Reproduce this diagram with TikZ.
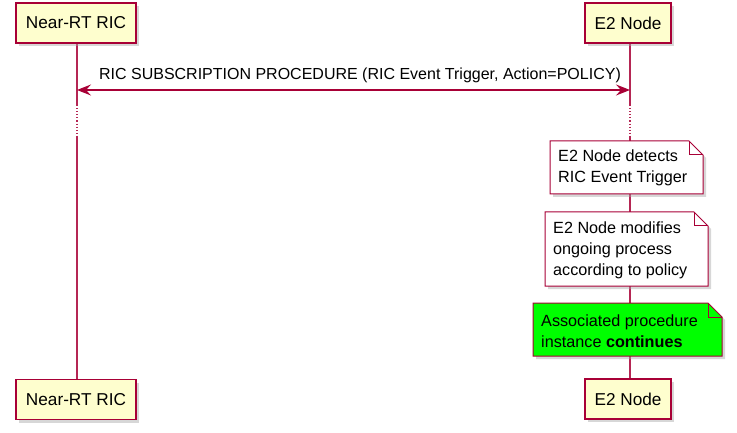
\documentclass[tikz,border=0pt]{standalone}
\usepackage{fontspec}
\setmainfont{Liberation Sans}
\usetikzlibrary{arrows.meta,shadows}
\definecolor{pumlred}{HTML}{A80036}
\definecolor{pumlyellow}{HTML}{FEFECE}
\definecolor{pumlgreen}{HTML}{00FF00}
\tikzset{
  participant/.style={draw=pumlred, line width=1.4pt, fill=pumlyellow,
    minimum height=40pt, inner xsep=9pt, font=\fontsize{17.2}{20}\selectfont,
    drop shadow={shadow xshift=3pt, shadow yshift=-3pt, fill=black!35, opacity=0.45}},
  lifeline/.style={draw=pumlred!85, line width=1.1pt},
  delay/.style={draw=pumlred!85, line width=1.1pt, dotted},
  msg/.style={draw=pumlred, line width=1.1pt,
    {Stealth[length=14pt,width=11pt,inset=5pt]}-{Stealth[length=14pt,width=11pt,inset=5pt]}},
  msgtext/.style={font=\fontsize{16}{18}\selectfont},
  notebox/.style={draw=pumlred, line width=1pt,
    drop shadow={shadow xshift=3pt, shadow yshift=-3pt, fill=black!35, opacity=0.45}},
  notefold/.style={draw=pumlred, line width=1pt},
  notetext/.style={font=\fontsize{16.2}{21}\selectfont, align=left, anchor=west, inner sep=0pt},
}
\begin{document}
\begin{tikzpicture}[x=1pt,y=-1pt]
\useasboundingbox (0,0) rectangle (737,433);
% lifelines
\coordinate (ricA) at (77,43);
\coordinate (ricB) at (77,105);
\coordinate (ricC) at (77,136);
\coordinate (ricD) at (77,379);
\coordinate (e2A) at (630,43);
\coordinate (e2B) at (630,105);
\coordinate (e2C) at (630,136);
\coordinate (e2D) at (630,378);
\draw[lifeline] (ricA) -- (ricB);
\draw[delay] (ricB) -- (ricC);
\draw[lifeline] (ricC) -- (ricD);
\draw[lifeline] (e2A) -- (e2B);
\draw[delay] (e2B) -- (e2C);
\draw[lifeline] (e2C) -- (e2D);
% participants
\node[participant, minimum width=120pt] (ricTop) at (76,23) {Near-RT RIC};
\node[participant, minimum width=86pt] (e2Top) at (628,23) {E2 Node};
\node[participant, minimum width=120pt] (ricBot) at (76,399.5) {Near-RT RIC};
\node[participant, minimum width=86pt] (e2Bot) at (628,399) {E2 Node};
% message
\coordinate (m1) at (77,90);
\coordinate (m2) at (630,90);
\draw[msg] (m1) -- (m2);
\node[msgtext] (msgl) at (360,75) {RIC SUBSCRIPTION PROCEDURE (RIC Event Trigger, Action=POLICY)};
% note 1
\path[notebox, fill=white] (550,141) -- (689,141) -- (703,155) -- (703,194) -- (550,194) -- cycle;
\draw[notefold] (689,141) -- (689,155) -- (703,155);
\node[notetext] (n1) at (558,168) {E2 Node detects\\RIC Event Trigger};
% note 2
\path[notebox, fill=white] (545,212) -- (694,212) -- (708,226) -- (708,286) -- (545,286) -- cycle;
\draw[notefold] (694,212) -- (694,226) -- (708,226);
\node[notetext] (n2) at (553,250) {E2 Node modifies\\ongoing process\\according to policy};
% note 3
\path[notebox, fill=pumlgreen] (533,303) -- (708,303) -- (722,317) -- (722,356) -- (533,356) -- cycle;
\draw[notefold] (708,303) -- (708,317) -- (722,317);
\node[notetext] (n3) at (541,331) {Associated procedure\\instance \textbf{continues}};
\end{tikzpicture}
\end{document}
